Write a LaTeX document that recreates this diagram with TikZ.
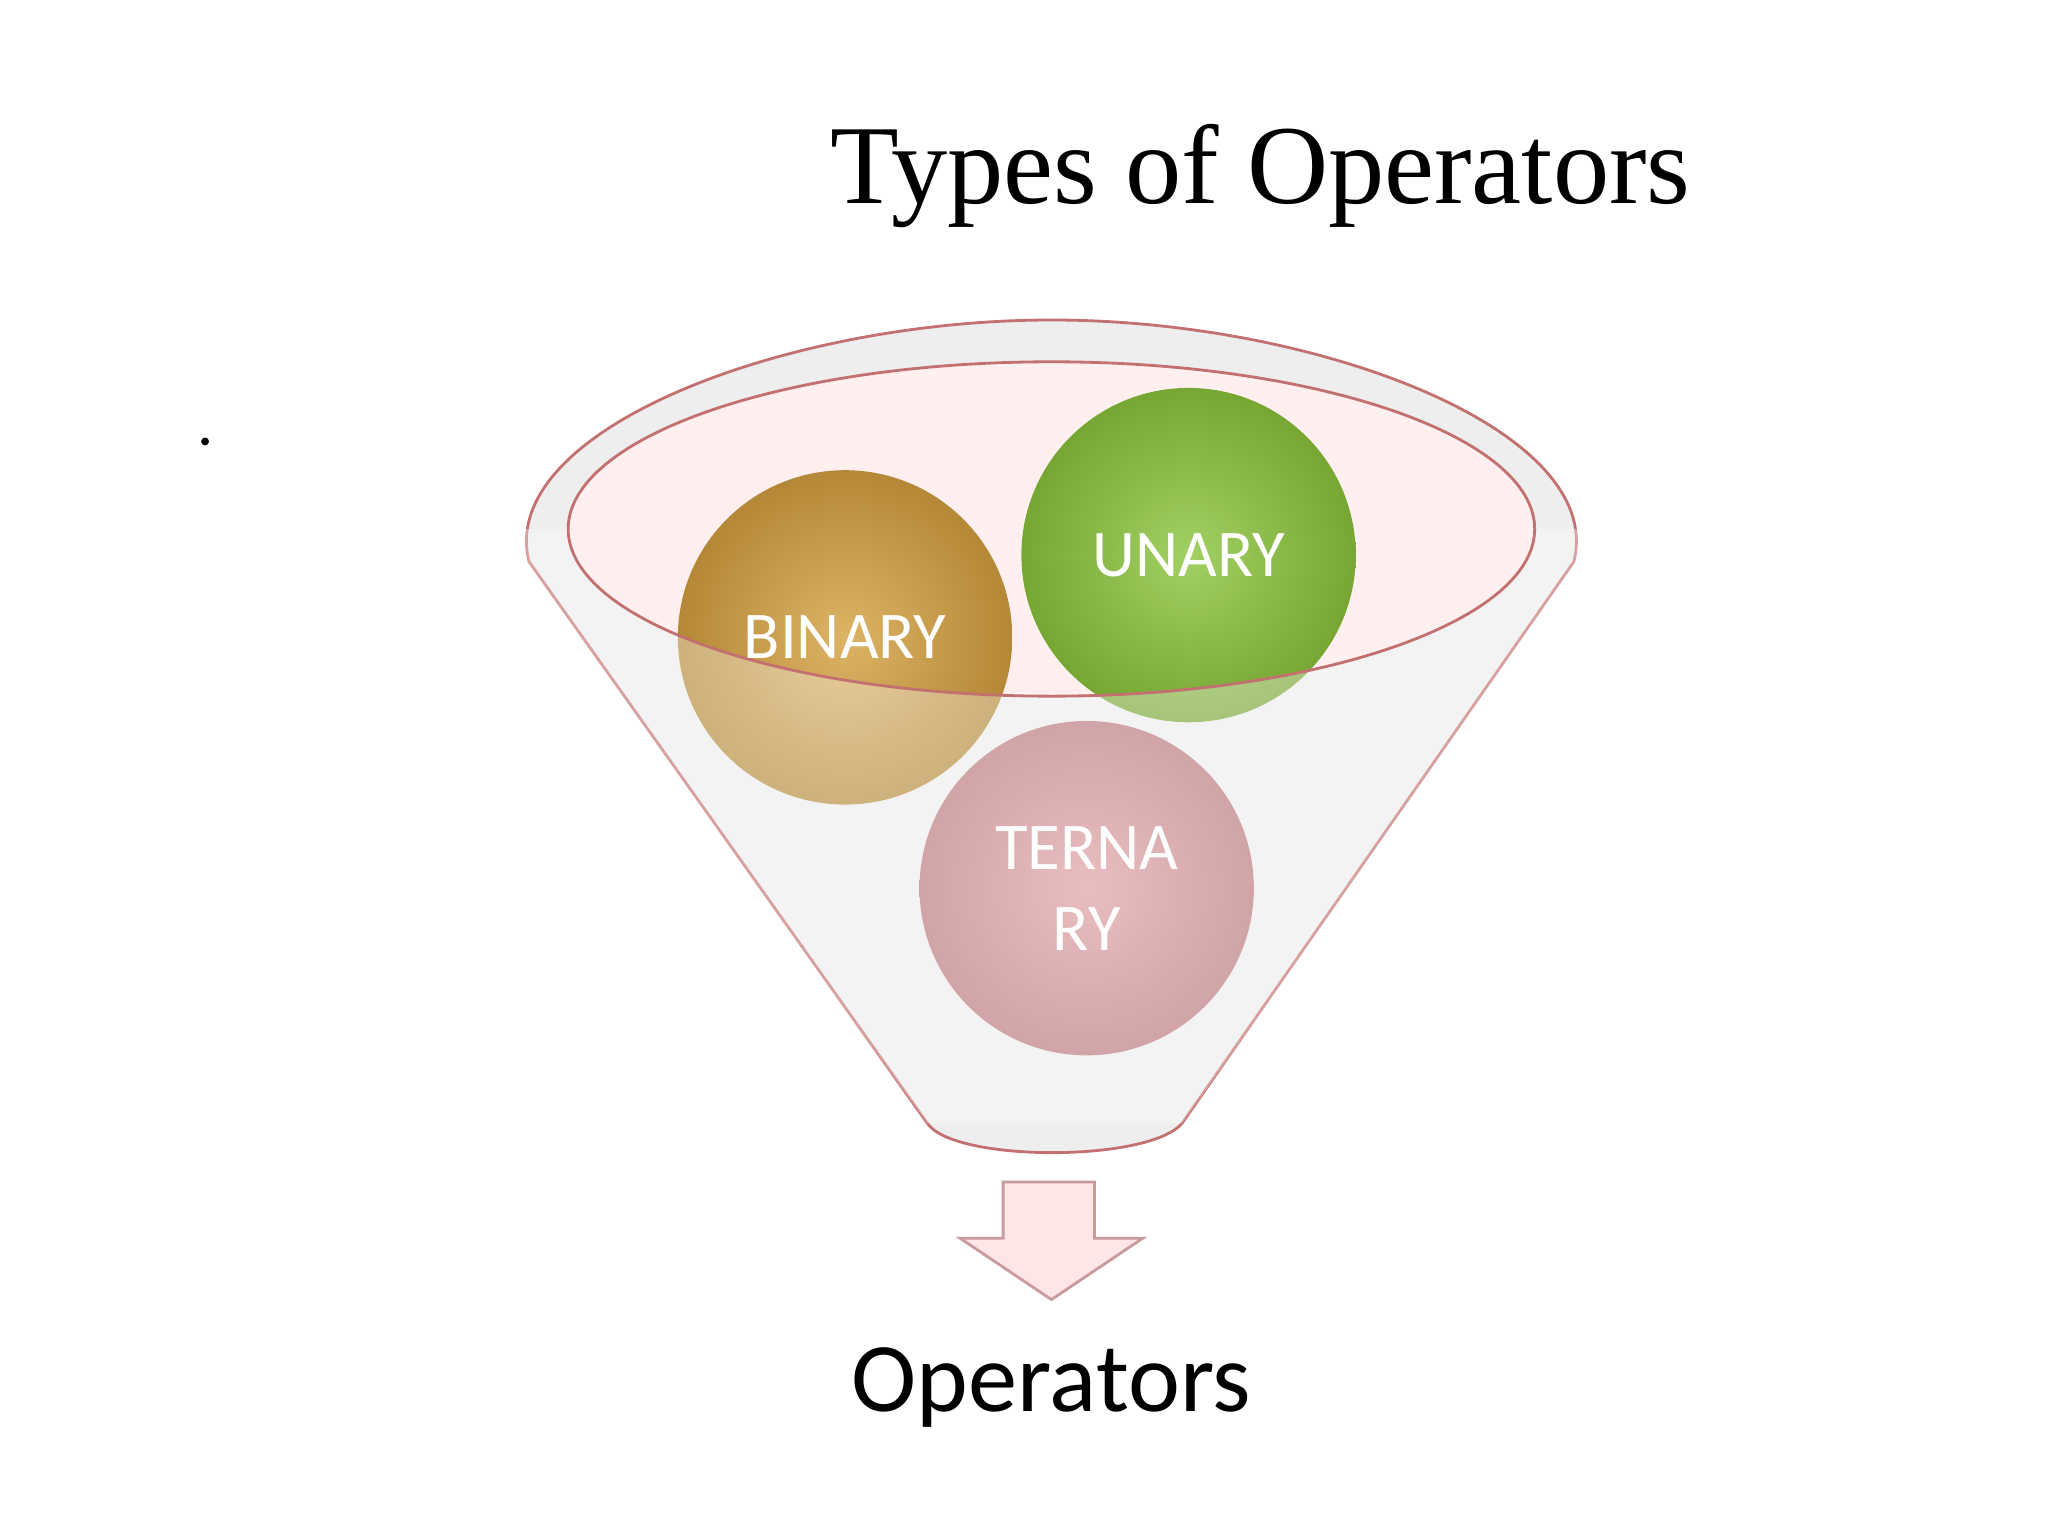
\documentclass[tikz,border=0pt]{standalone}
\usepackage{fontspec}
\setmainfont{Liberation Serif}
\newfontfamily\carlitofont{Carlito}
\definecolor{goldc}{HTML}{D4A040}
\definecolor{greenc}{HTML}{8CC43C}
\definecolor{pinkc}{HTML}{D98A8E}
\begin{document}
\begin{tikzpicture}[x=0.01306cm,y=-0.01306cm,
  rim/.style={draw=red!40!gray!80, line width=0.8pt},
  ball/.style={circle, minimum size=3.34cm, inner sep=0pt, text=white, font=\carlitofont\fontsize{19}{23}\selectfont, align=center}]
\useasboundingbox (0,0) rectangle (1568,1176);
\fill[white] (0,0) rectangle (1568,1176);
\node[font=\fontsize{32}{38}\selectfont] (title) at (965,135) {Types of Operators};
\fill (157,338) circle (3);
% funnel
\path[rim, fill=gray!13] (405,430) .. controls (380,330) and (600,245) .. (805,245) .. controls (1010,245) and (1230,330) .. (1205,430)
  -- (905,860) .. controls (880,890) and (730,890) .. (710,860) -- cycle;
\fill[pink!25] (805,405) ellipse [x radius=370, y radius=128];
% balls
\shade[inner color=goldc!80!white, outer color=goldc!85!black] (647,488) circle (128);
\shade[inner color=greenc!80!white, outer color=greenc!85!black] (910,425) circle (128);
\shade[inner color=pinkc!85!white, outer color=pinkc!85!black] (832,680) circle (128);
\begin{scope}
\clip (380,405) -- (1230,405) -- (905,860) -- (710,860) -- cycle;
\fill[white, opacity=0.35, even odd rule] (300,400) rectangle (1300,900) (805,405) ellipse [x radius=370, y radius=128];
\end{scope}
\draw[rim] (805,405) ellipse [x radius=370, y radius=128];
\node[ball] (bin) at (647,488) {BINARY};
\node[ball] (un) at (910,425) {UNARY};
\node[ball] (ter) at (832,680) {TERNA\\RY};
% arrow
\path[fill=pink!40, draw=red!30!gray!60, line width=0.8pt] (768,905) -- (838,905) -- (838,948) -- (875,948) -- (805,995) -- (735,948) -- (768,948) -- cycle;
\node[font=\carlitofont\fontsize{28}{34}\selectfont] (ops) at (805,1062) {Operators};
\end{tikzpicture}
\end{document}
